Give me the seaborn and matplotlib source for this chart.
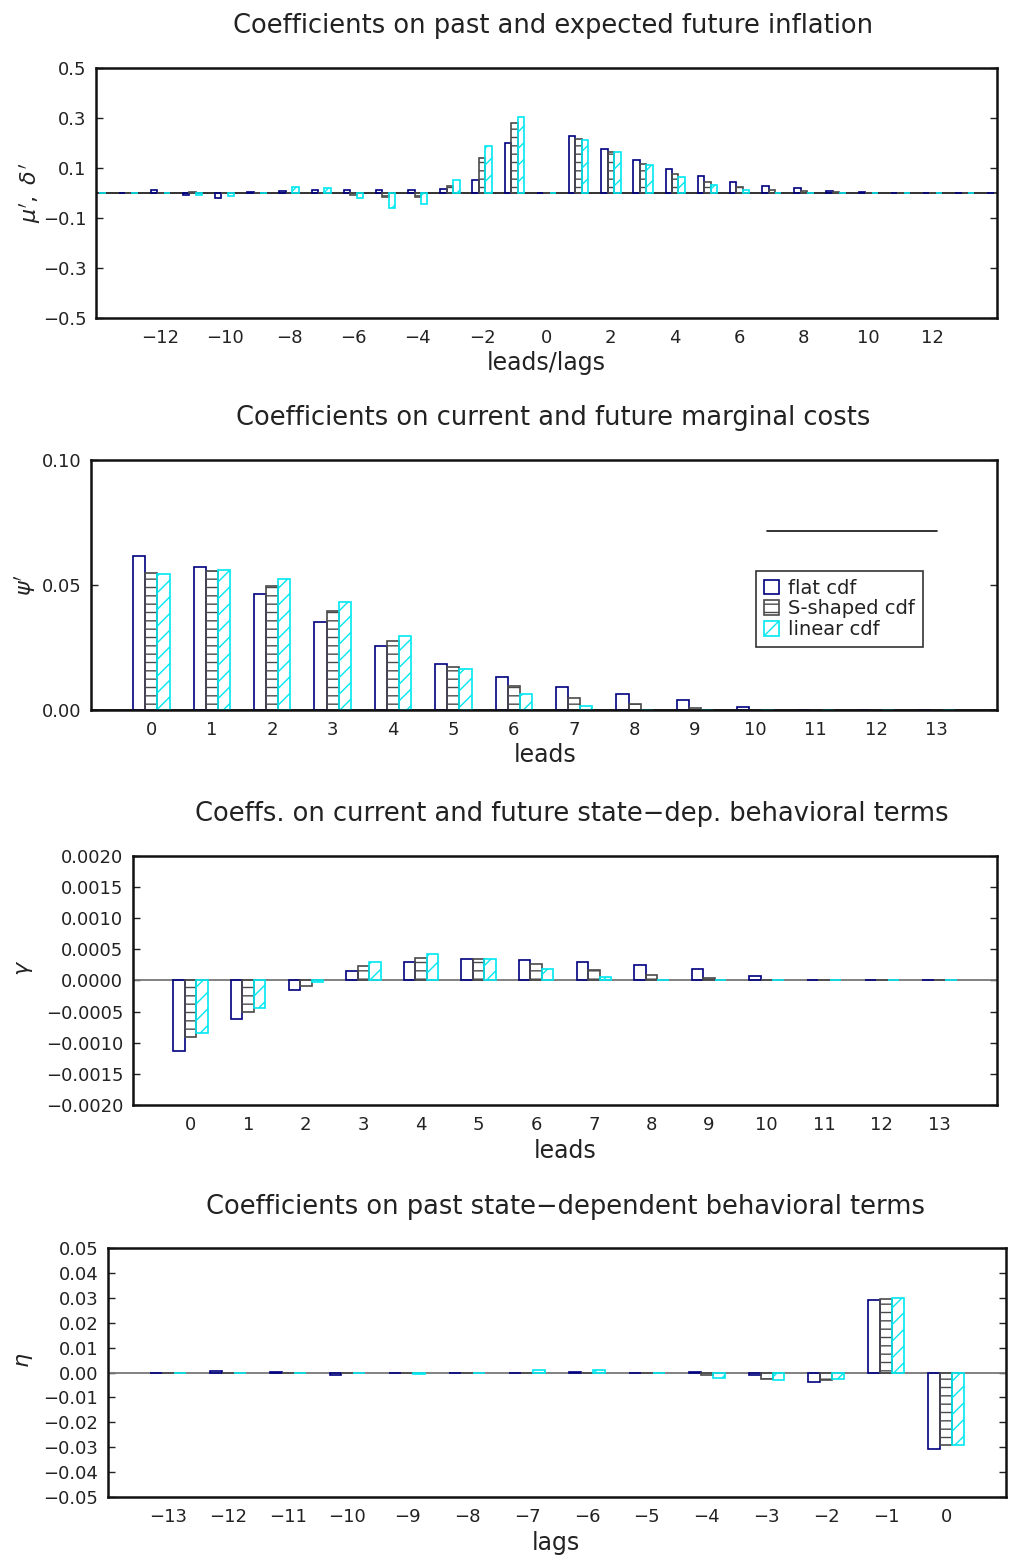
import matplotlib
matplotlib.use("Agg")
import matplotlib.pyplot as plt
from matplotlib.patches import Patch
import pandas as pd
import seaborn as sns

# ---------------- data ----------------
cdf_names = ["flat cdf", "S-shaped cdf", "linear cdf"]

# Panel 1: coefficients on past and expected future inflation (leads/lags -14..14)
infl_x = list(range(-14, 15))
infl_flat = [0.0, 0.002, 0.011, -0.009, -0.021, 0.003, 0.009, 0.011, 0.012, 0.012,
             0.013, 0.017, 0.052, 0.200, 0.002, 0.229, 0.176, 0.132, 0.095, 0.067,
             0.044, 0.028, 0.019, 0.009, 0.003, 0.001, 0.0, 0.0, 0.0]
infl_s = [0.0, 0.0, 0.002, 0.003, 0.001, 0.0, 0.001, 0.0, -0.007, -0.016,
          -0.016, 0.028, 0.140, 0.281, 0.0, 0.216, 0.165, 0.116, 0.075, 0.045,
          0.024, 0.013, 0.008, 0.003, 0.001, 0.0, 0.0, 0.0, 0.0]
infl_lin = [0.0, 0.0, 0.0, -0.008, -0.013, 0.0, 0.024, 0.021, -0.019, -0.060,
            -0.044, 0.052, 0.188, 0.304, 0.0, 0.213, 0.164, 0.111, 0.064, 0.032,
            0.013, 0.002, 0.0, 0.0, 0.0, 0.0, 0.0, 0.0, 0.0]
infl_ticks = list(range(-12, 13, 2))

# Panel 2: coefficients on current and future marginal costs (leads 0..13)
mc_x = list(range(0, 14))
mc_flat = [0.0615, 0.0573, 0.0464, 0.0351, 0.0257, 0.0185, 0.0131, 0.0091, 0.0064,
           0.0040, 0.0013, 0.0002, 0.0002, 0.0001]
mc_s = [0.0547, 0.0555, 0.0497, 0.0395, 0.0276, 0.0173, 0.0097, 0.0049, 0.0023,
        0.0007, 0.0002, 0.0001, 0.0001, 0.0]
mc_lin = [0.0543, 0.0559, 0.0525, 0.0432, 0.0297, 0.0163, 0.0065, 0.0017, 0.0002,
          0.0, 0.0, 0.0, 0.0, 0.0]

# Panel 3: coefficients on current and future state-dependent behavioral terms
fut_x = list(range(0, 14))
fut_flat = [-0.00113, -0.00062, -0.000155, 0.000145, 0.000294, 0.000343, 0.000337,
            0.00030, 0.000246, 0.00019, 0.000075, 0.0, 0.0, 0.0]
fut_s = [-0.00091, -0.00051, -0.000086, 0.00023, 0.00036, 0.000348, 0.00026,
         0.000166, 0.000086, 0.00004, 0.000005, 0.0, 0.0, 0.0]
fut_lin = [-0.00085, -0.00044, -0.000027, 0.00030, 0.00042, 0.000343, 0.00018,
           0.00006, 0.0, 0.0, 0.0, 0.0, 0.0, 0.0]

# Panel 4: coefficients on past state-dependent behavioral terms (lags -13..0)
past_x = list(range(-13, 1))
past_flat = [-0.0004, 0.0005, 0.0003, -0.0009, -0.0001, 0.0, 0.0, 0.0001, 0.0,
             0.0001, -0.0009, -0.0037, 0.0290, -0.0309]
past_s = [0.0, 0.0, 0.0, 0.0, 0.0, 0.0, 0.0, 0.0, 0.0,
          -0.0011, -0.0025, -0.0032, 0.0296, -0.0292]
past_lin = [0.0, 0.0, 0.0, -0.0004, -0.0008, 0.0, 0.0009, 0.0009, -0.0002,
            -0.0021, -0.0032, -0.0025, 0.0300, -0.0290]

# ---------------- style ----------------
sns.set_theme(style="white")
plt.rcParams["font.family"] = ["DejaVu Sans"]
plt.rcParams["hatch.linewidth"] = 1.0
plt.rcParams["axes.unicode_minus"] = True

colors = {"flat cdf": "#000080", "S-shaped cdf": "#4a4a4a", "linear cdf": "#00e8f0"}
hatches = {"flat cdf": "", "S-shaped cdf": "--", "linear cdf": "//"}
text_color = "#222222"

W, H = 1016, 1562
fig = plt.figure(figsize=(W / 100, H / 100), dpi=100)


def px_axes(left, top, right, bottom):
    return fig.add_axes([left / W, 1 - bottom / H, (right - left) / W, (bottom - top) / H])


def ftext(x, y, s, **kw):
    fig.text(x / W, 1 - y / H, s, ha="center", va="center", color=text_color, **kw)


def draw_panel(ax, x, flat, s, lin, xlim, ylim, yticks, yfmt, xticks, zero_color):
    df = pd.DataFrame({
        "pos": list(x) * 3,
        "value": list(flat) + list(s) + list(lin),
        "cdf": [cdf_names[0]] * len(x) + [cdf_names[1]] * len(x) + [cdf_names[2]] * len(x),
    })
    ax.axhline(0, color=zero_color, lw=1.3, zorder=1)
    sns.barplot(data=df, x="pos", y="value", hue="cdf", hue_order=cdf_names,
                palette=colors, native_scale=True, width=0.6, gap=0,
                errorbar=None, legend=False, ax=ax, zorder=2)
    for cont, name in zip(ax.containers, cdf_names):
        for p in cont:
            p.set_facecolor("none")
            p.set_edgecolor(colors[name])
            p.set_hatch(hatches[name])
            p.set_linewidth(1.2)
    ax.set_xlim(*xlim)
    ax.set_ylim(*ylim)
    ax.set_yticks(yticks)
    ax.set_yticklabels([yfmt.format(v).replace("-", "\u2212") for v in yticks])
    ax.set_xticks(xticks)
    ax.set_xticklabels([str(v).replace("-", "\u2212") for v in xticks])
    ax.set_xlabel("")
    ax.set_ylabel("")
    for sp in ax.spines.values():
        sp.set_visible(True)
        sp.set_color("#111111")
        sp.set_linewidth(1.8)
    ax.tick_params(axis="y", direction="in", left=True, right=True, length=5,
                   width=1.0, color=text_color, labelsize=13, pad=7,
                   labelcolor=text_color)
    ax.tick_params(axis="x", length=0, pad=8, labelsize=13, labelcolor=text_color)
    ax.grid(False)


# Panel 1
ax1 = px_axes(96, 68, 997, 318)
draw_panel(ax1, infl_x, infl_flat, infl_s, infl_lin, (-14, 14), (-0.5, 0.5),
           [-0.5, -0.3, -0.1, 0.1, 0.3, 0.5], "{:.1f}", infl_ticks, "#222222")
ftext(553, 26, "Coefficients on past and expected future inflation", fontsize=18.5)
ftext(546, 363, "leads/lags", fontsize=17)
ftext(30, 193, r"$\mu^{\prime},\ \delta^{\prime}$", fontsize=16, rotation=90)

# Panel 2
ax2 = px_axes(91, 460, 997, 710)
draw_panel(ax2, mc_x, mc_flat, mc_s, mc_lin, (-1, 14), (0.0, 0.10),
           [0.0, 0.05, 0.10], "{:.2f}", mc_x, "#222222")
ftext(553, 418, "Coefficients on current and future marginal costs", fontsize=18.5)
ftext(545, 755, "leads", fontsize=17)
ftext(25, 585, r"$\psi^{\prime}$", fontsize=16, rotation=90)
ax2.plot([0.746, 0.934], [0.716, 0.716], transform=ax2.transAxes,
         color="#111111", lw=1.2, clip_on=False)
handles = [Patch(facecolor="none", edgecolor=colors[n], hatch=hatches[n], lw=1.2)
           for n in cdf_names]
leg = ax2.legend(handles, cdf_names, loc="upper left", bbox_to_anchor=(0.734, 0.556),
                 fontsize=14, frameon=True, fancybox=False, framealpha=1,
                 edgecolor="#333333", handlelength=0.8, handleheight=0.8,
                 handletextpad=0.45, labelspacing=0.08, borderpad=0.4,
                 borderaxespad=0)
leg.get_frame().set_linewidth(1.2)
for t in leg.get_texts():
    t.set_color(text_color)

# Panel 3
ax3 = px_axes(133, 856, 997, 1105)
yt3 = [-0.002, -0.0015, -0.001, -0.0005, 0.0, 0.0005, 0.001, 0.0015, 0.002]
draw_panel(ax3, fut_x, fut_flat, fut_s, fut_lin, (-1, 14), (-0.002, 0.002),
           yt3, "{:.4f}", fut_x, "#777777")
ftext(572, 814, "Coeffs. on current and future state\u2212dep. behavioral terms",
      fontsize=18.5)
ftext(565, 1151, "leads", fontsize=17)
ftext(25, 968, r"$\gamma$", fontsize=16, rotation=90)

# Panel 4
ax4 = px_axes(108, 1248, 1006, 1497)
yt4 = [round(-0.05 + 0.01 * i, 2) for i in range(11)]
draw_panel(ax4, past_x, past_flat, past_s, past_lin, (-14, 1), (-0.05, 0.05),
           yt4, "{:.2f}", past_x, "#777777")
ftext(565, 1207, "Coefficients on past state\u2212dependent behavioral terms",
      fontsize=18.5)
ftext(556, 1543, "lags", fontsize=17)
ftext(25, 1360, r"$\eta$", fontsize=16, rotation=90)

fig.savefig("out.png", dpi=100)
